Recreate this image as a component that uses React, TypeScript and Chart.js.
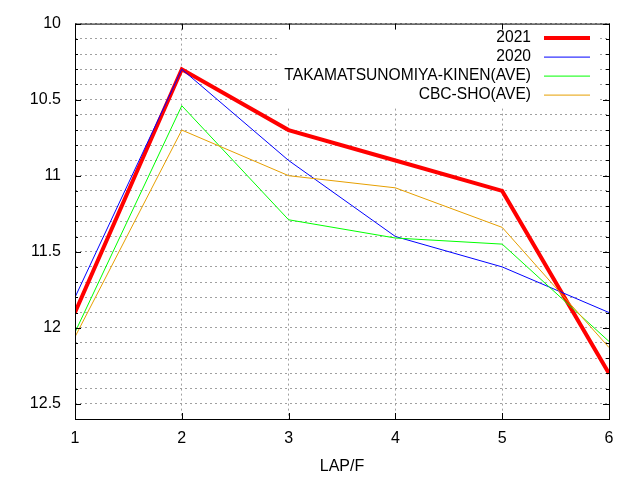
import { useEffect, useRef } from 'react';
import { Chart, registerables } from 'chart.js';

Chart.register(...registerables);

// ラップ番号 (1F = 200m)
const laps = [1, 2, 3, 4, 5, 6];

// 各ラップのタイム (秒)
const lap2021 = [11.9, 10.3, 10.7, 10.9, 11.1, 12.3];
const lap2020 = [11.8, 10.3, 10.9, 11.4, 11.6, 11.9];
const takamatsuAve = [12.03, 10.54, 11.29, 11.41, 11.45, 12.09];
const cbcAve = [12.06, 10.7, 11.0, 11.08, 11.34, 12.13];

const seriesNames = ['2021', '2020', 'TAKAMATSUNOMIYA-KINEN(AVE)', 'CBC-SHO(AVE)'];
const seriesValues = [lap2021, lap2020, takamatsuAve, cbcAve];
const seriesColors = ['#ff0000', '#0000ff', '#00ff00', '#e69f00'];
const seriesWidths = [4, 1, 1, 1];

const yLabelTicks = [10, 10.5, 11, 11.5, 12, 12.5];

const FONT = "'Liberation Sans', Arial, sans-serif";

const isLabelTick = (v: number) => yLabelTicks.some(t => Math.abs(t - v) < 1e-6);

// gnuplot 風の凡例 (右寄せテキスト + 線サンプル、白背景)
const gnuLegend = {
  id: 'gnuLegend',
  afterDatasetsDraw(chart: Chart) {
    const { ctx, chartArea } = chart;
    const textRight = chartArea.right - 78;
    const sampleLeft = chartArea.right - 65;
    const sampleRight = chartArea.right - 19;
    ctx.save();
    ctx.font = `15.6px ${FONT}`;
    const maxW = Math.max(...seriesNames.map(n => ctx.measureText(n).width));
    const boxLeft = textRight - maxW - 7;
    ctx.fillStyle = '#ffffff';
    ctx.fillRect(boxLeft, chartArea.top + 1, chartArea.right - 11 - boxLeft, 83);
    ctx.textAlign = 'right';
    ctx.textBaseline = 'middle';
    seriesNames.forEach((name, i) => {
      const y = chartArea.top + 14 + i * 19;
      ctx.fillStyle = '#000000';
      ctx.fillText(name, textRight, y);
      ctx.strokeStyle = seriesColors[i];
      ctx.lineWidth = seriesWidths[i];
      ctx.beginPath();
      ctx.moveTo(sampleLeft, y + 0.5);
      ctx.lineTo(sampleRight, y + 0.5);
      ctx.stroke();
    });
    ctx.restore();
  },
};

// 枠線と内向きの目盛り
const gnuFrame = {
  id: 'gnuFrame',
  afterDraw(chart: Chart) {
    const { ctx, chartArea } = chart;
    const { left, right, top, bottom } = chartArea;
    const xs = chart.scales.x;
    const ys = chart.scales.y;
    ctx.save();
    ctx.strokeStyle = '#000000';
    ctx.lineWidth = 1;
    ctx.beginPath();
    laps.forEach(v => {
      const px = Math.round(xs.getPixelForValue(v)) + 0.5;
      ctx.moveTo(px, bottom);
      ctx.lineTo(px, bottom - 6);
      ctx.moveTo(px, top);
      ctx.lineTo(px, top + 6);
    });
    ys.ticks.forEach(t => {
      const len = isLabelTick(t.value) ? 6 : 3;
      const py = Math.round(ys.getPixelForValue(t.value)) + 0.5;
      ctx.moveTo(left, py);
      ctx.lineTo(left + len, py);
      ctx.moveTo(right, py);
      ctx.lineTo(right - len, py);
    });
    ctx.stroke();
    ctx.strokeRect(left + 0.5, top + 0.5, right - left, bottom - top);
    ctx.restore();
  },
};

export default function App() {
  const canvasRef = useRef<HTMLCanvasElement>(null);
  const chartRef = useRef<Chart | null>(null);

  useEffect(() => {
    if (!canvasRef.current) return;
    if (chartRef.current) chartRef.current.destroy();

    chartRef.current = new Chart(canvasRef.current, {
      type: 'line',
      data: {
        datasets: seriesValues.map((vals, i) => ({
          label: seriesNames[i],
          data: laps.map((x, j) => ({ x, y: vals[j] })),
          borderColor: seriesColors[i],
          backgroundColor: seriesColors[i],
          borderWidth: seriesWidths[i],
          pointRadius: 0,
          pointHoverRadius: 0,
          tension: 0,
          fill: false,
          order: seriesNames.length - i,
        })),
      },
      options: {
        responsive: false,
        animation: false,
        layout: { padding: { top: 19, right: 31, left: 0, bottom: 0 } },
        plugins: {
          legend: { display: false },
          tooltip: { enabled: false },
        },
        scales: {
          x: {
            type: 'linear',
            min: 1,
            max: 6,
            afterFit: (scale: any) => { scale.height = 61; },
            ticks: {
              stepSize: 1,
              color: '#000000',
              padding: 10,
              font: { family: FONT, size: 16 },
            },
            grid: { color: '#a0a0a0', lineWidth: 1, drawTicks: false },
            border: { display: false, dash: [2, 3] },
            title: {
              display: true,
              text: 'LAP/F',
              color: '#000000',
              font: { family: FONT, size: 16 },
              padding: { top: 0, bottom: 4 },
            },
          },
          y: {
            type: 'linear',
            reverse: true,
            min: 10,
            max: 12.6,
            afterFit: (scale: any) => { scale.width = 75; },
            ticks: {
              stepSize: 0.1,
              autoSkip: false,
              color: '#000000',
              padding: 14,
              font: { family: FONT, size: 16 },
              callback: (v: any) => (isLabelTick(Number(v)) ? String(Number(v)) : ''),
            },
            grid: { color: '#a0a0a0', lineWidth: 1, drawTicks: false },
            border: { display: false, dash: [2, 3] },
          },
        },
      },
      plugins: [gnuLegend, gnuFrame],
    });

    return () => {
      if (chartRef.current) {
        chartRef.current.destroy();
        chartRef.current = null;
      }
    };
  }, []);

  return (
    <div style={{ position: 'fixed', left: 0, top: 0, width: 640, height: 480, background: '#ffffff' }}>
      <canvas ref={canvasRef} width={640} height={480} style={{ display: 'block' }} />
    </div>
  );
}
